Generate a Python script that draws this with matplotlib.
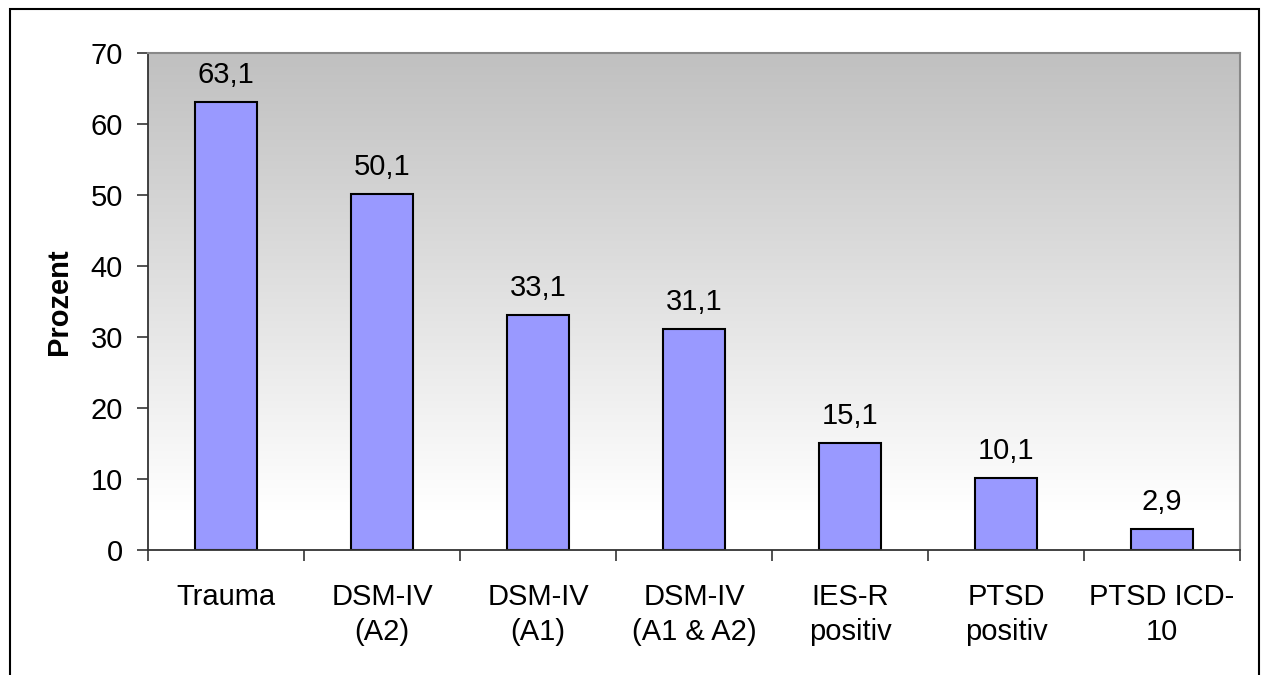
import matplotlib
matplotlib.use("Agg")
import matplotlib.pyplot as plt
import numpy as np
from matplotlib.patches import Rectangle

plt.rcParams['font.family'] = ['Liberation Sans', 'DejaVu Sans']

categories = ["Trauma", "DSM-IV\n(A2)", "DSM-IV\n(A1)", "DSM-IV\n(A1 & A2)",
              "IES-R\npositiv", "PTSD\npositiv", "PTSD ICD-\n10"]
values = [63.1, 50.1, 33.1, 31.1, 15.1, 10.1, 2.9]
value_labels = ["63,1", "50,1", "33,1", "31,1", "15,1", "10,1", "2,9"]
yticks = [0, 10, 20, 30, 40, 50, 60, 70]

FS = 21
W, H = 1263, 675
fig = plt.figure(figsize=(W / 100, H / 100), dpi=100)
fig.patch.set_facecolor("white")

# outer frame
fig.patches.append(Rectangle((10 / W, -0.05), (1259 - 10) / W, 1.05 - 9 / H,
                             transform=fig.transFigure, fill=False,
                             edgecolor="black", linewidth=1.5))

left, right, top, bottom = 148, 1240, 53, 550
ax = fig.add_axes([left / W, 1 - bottom / H, (right - left) / W, (bottom - top) / H])

n = len(categories)
x = np.arange(n)
ax.set_xlim(-0.5, n - 0.5)
ax.set_ylim(0, 70)

# gradient background
grad = np.linspace(0.0, 1.0, 256).reshape(-1, 1)  # 0 at top, 1 at bottom
g = 192 / 255 + (1 - 192 / 255) * np.clip(grad / 0.92, 0, 1)
rgb = np.dstack([g, g, g])
ax.imshow(rgb, extent=(-0.5, n - 0.5, 0, 70), aspect="auto", zorder=0, origin="upper")

ax.bar(x, values, width=0.4, color="#9999FF", edgecolor="black", linewidth=1.5, zorder=2)

for xi, v, lab in zip(x, values, value_labels):
    ax.annotate(lab, (xi, v), xytext=(0, 9.5), textcoords="offset points",
                ha="center", va="bottom", fontsize=FS, color="black")

ax.set_yticks(yticks)
ax.set_yticklabels([str(t) for t in yticks], fontsize=FS)
ax.set_xticks(x)
ax.set_xticklabels(categories, fontsize=FS, linespacing=1.3)
ax.tick_params(axis="x", length=0, pad=24)
ax.set_xticks(np.arange(n + 1) - 0.5, minor=True)
ax.tick_params(axis="x", which="minor", length=8, width=1.2, color="#333333", direction="out")
ax.tick_params(axis="y", length=8, width=1.2, color="#333333", direction="out", pad=10)

ax.set_ylabel("Prozent", fontsize=FS, fontweight="bold", labelpad=13)

for s in ["left", "bottom"]:
    ax.spines[s].set_color("#333333")
    ax.spines[s].set_linewidth(1.3)
for s in ["top", "right"]:
    ax.spines[s].set_color("#888888")
    ax.spines[s].set_linewidth(1.5)

fig.savefig("out.png", dpi=100)
